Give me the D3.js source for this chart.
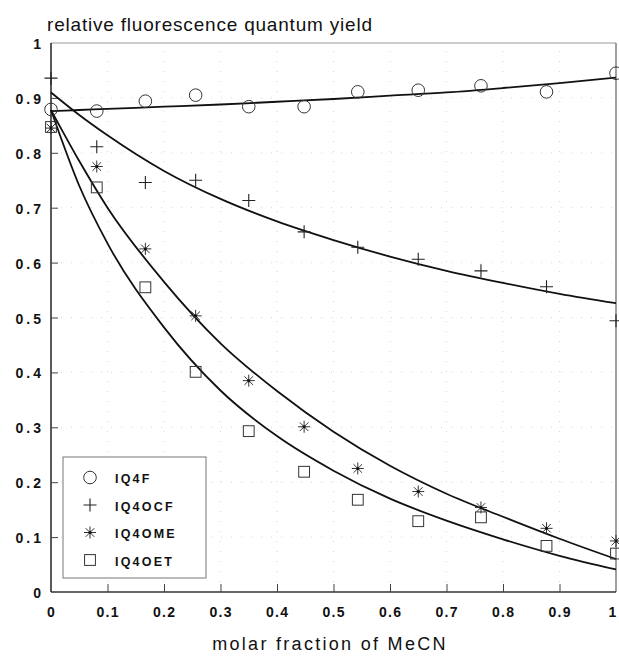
<!DOCTYPE html>
<html lang="en">
<head>
<meta charset="utf-8">
<title>relative fluorescence quantum yield</title>
<script src="https://cdn.jsdelivr.net/npm/d3@7"></script>
<style>
  body { margin: 0; background: #fff; }
  svg { display: block; }
  text { font-family: "Liberation Sans", Arial, sans-serif; fill: #111; }
</style>
</head>
<body>
<svg width="619" height="656"></svg>
<script>
// measured points (mole fraction of MeCN)
var xVals   = [0, 0.081, 0.167, 0.256, 0.35, 0.448, 0.543, 0.65, 0.761, 0.877, 1.0];
var iq4f    = [0.879, 0.876, 0.894, 0.905, 0.884, 0.884, 0.911, 0.914, 0.922, 0.911, 0.945];
var iq4ocf  = [0.936, 0.811, 0.746, 0.750, 0.713, 0.656, 0.628, 0.606, 0.585, 0.556, 0.494];
var iq4ome  = [0.845, 0.775, 0.625, 0.503, 0.385, 0.301, 0.225, 0.183, 0.154, 0.116, 0.093];
var iq4oet  = [0.847, 0.737, 0.555, 0.401, 0.293, 0.219, 0.168, 0.129, 0.136, 0.084, 0.070];

// fitted curves
var fitX      = [0, 0.05, 0.1, 0.2, 0.3, 0.4, 0.5, 0.6, 0.7, 0.8, 0.9, 1.0];
var fitIq4f   = [0.876, 0.878, 0.880, 0.884, 0.888, 0.893, 0.898, 0.904, 0.910, 0.918, 0.927, 0.937];
var fitIq4ocf = [0.910, 0.869, 0.832, 0.767, 0.716, 0.675, 0.641, 0.611, 0.585, 0.563, 0.543, 0.526];
var fitIq4ome = [0.878, 0.785, 0.700, 0.565, 0.453, 0.366, 0.292, 0.230, 0.179, 0.137, 0.097, 0.060];
var fitIq4oet = [0.878, 0.740, 0.635, 0.482, 0.367, 0.284, 0.221, 0.170, 0.130, 0.096, 0.066, 0.041];

var tickVals   = [0, 0.1, 0.2, 0.3, 0.4, 0.5, 0.6, 0.7, 0.8, 0.9, 1];
var tickLabels = ["0", "0.1", "0.2", "0.3", "0.4", "0.5", "0.6", "0.7", "0.8", "0.9", "1"];
var seriesNames = ["IQ4F", "IQ4OCF", "IQ4OME", "IQ4OET"];

var svg = d3.select("svg");
var x = d3.scaleLinear().domain([0, 1]).range([51, 616]);
var y = d3.scaleLinear().domain([0, 1]).range([592, 43]);

// faint dotted grid
var grid = svg.append("g").attr("stroke", "#d6d6d6").attr("stroke-width", 1)
    .attr("stroke-dasharray", "1,9");
grid.selectAll("line.v").data(tickVals.slice(1, 10)).enter().append("line")
    .attr("x1", function(d) { return x(d); }).attr("x2", function(d) { return x(d); })
    .attr("y1", y(0)).attr("y2", y(1));
grid.selectAll("line.h").data(tickVals.slice(1, 10)).enter().append("line")
    .attr("y1", function(d) { return y(d); }).attr("y2", function(d) { return y(d); })
    .attr("x1", x(0)).attr("x2", x(1));

// frame
svg.append("line").attr("x1", x(0)).attr("x2", x(1)).attr("y1", y(1)).attr("y2", y(1))
    .attr("stroke", "#999").attr("stroke-width", 1);
svg.append("line").attr("x1", x(1)).attr("x2", x(1)).attr("y1", y(1)).attr("y2", y(0))
    .attr("stroke", "#888").attr("stroke-width", 1.6);

// axes with inward ticks
var xAxis = d3.axisBottom(x).tickValues(tickVals.slice(1, 10)).tickSize(-8).tickFormat("");
var yAxis = d3.axisLeft(y).tickValues(tickVals.slice(1, 10)).tickSize(-7).tickFormat("");
var gx = svg.append("g").attr("transform", "translate(0," + y(0) + ")").call(xAxis);
var gy = svg.append("g").attr("transform", "translate(" + x(0) + ",0)").call(yAxis);
gx.select(".domain").attr("d", "M" + x(0) + ",0H" + x(1)).attr("stroke", "#333").attr("stroke-width", 1.5);
gy.select(".domain").attr("d", "M0," + y(0) + "V" + y(1)).attr("stroke", "#222").attr("stroke-width", 1.5);
gx.selectAll(".tick line").attr("stroke", "#444");
gy.selectAll(".tick line").attr("stroke", "#444");

// tick labels
svg.append("g").selectAll("text").data(tickVals).enter().append("text")
    .attr("x", function(d) { return d === 1 ? x(d) - 3 : x(d) + 0.6; })
    .attr("y", 617)
    .attr("text-anchor", "middle")
    .style("font-size", "14px").style("font-weight", "bold").style("letter-spacing", "1.2px")
    .text(function(d, i) { return tickLabels[i]; });
svg.append("g").selectAll("text").data(tickVals).enter().append("text")
    .attr("x", 44)
    .attr("y", function(d) { return y(d) + 6; })
    .attr("text-anchor", "end")
    .style("font-size", "14px").style("font-weight", "bold").style("letter-spacing", "3px")
    .text(function(d, i) { return tickLabels[i]; });

// titles
svg.append("text").attr("x", 47).attr("y", 31)
    .style("font-size", "19px").style("letter-spacing", "0.8px")
    .text("relative fluorescence quantum yield");
svg.append("text").attr("x", 330).attr("y", 650).attr("text-anchor", "middle")
    .style("font-size", "18px").style("letter-spacing", "2.3px")
    .text("molar fraction of MeCN");

// fitted curves
var line = d3.line()
    .x(function(d) { return x(d[0]); })
    .y(function(d) { return y(d[1]); })
    .curve(d3.curveMonotoneX);
[fitIq4f, fitIq4ocf, fitIq4ome, fitIq4oet].forEach(function(vals) {
    svg.append("path")
        .datum(fitX.map(function(v, i) { return [v, vals[i]]; }))
        .attr("fill", "none").attr("stroke", "#111").attr("stroke-width", 1.8)
        .attr("d", line);
});

// marker drawers
function drawCircle(g, cx, cy) {
    g.append("circle").attr("cx", cx).attr("cy", cy).attr("r", 6.3)
        .attr("fill", "none").attr("stroke", "#333").attr("stroke-width", 1);
}
function drawPlus(g, cx, cy) {
    g.append("path").attr("d", "M" + (cx - 6.5) + "," + cy + "h13M" + cx + "," + (cy - 6.5) + "v13")
        .attr("stroke", "#222").attr("stroke-width", 1.1);
}
function drawStar(g, cx, cy) {
    var r = 6, q = 4.3;
    g.append("path").attr("d",
        "M" + (cx - r) + "," + cy + "h" + 2 * r +
        "M" + cx + "," + (cy - r) + "v" + 2 * r +
        "M" + (cx - q) + "," + (cy - q) + "l" + 2 * q + "," + 2 * q +
        "M" + (cx - q) + "," + (cy + q) + "l" + 2 * q + "," + (-2 * q))
        .attr("stroke", "#333").attr("stroke-width", 1);
    g.append("circle").attr("cx", cx).attr("cy", cy).attr("r", 1.5).attr("fill", "#111");
}
function drawSquare(g, cx, cy) {
    g.append("rect").attr("x", cx - 5.4).attr("y", cy - 5.4).attr("width", 10.8).attr("height", 10.8)
        .attr("fill", "none").attr("stroke", "#333").attr("stroke-width", 1);
}
var drawers = [drawCircle, drawPlus, drawStar, drawSquare];

var marks = svg.append("g");
[iq4f, iq4ocf, iq4ome, iq4oet].forEach(function(vals, s) {
    vals.forEach(function(v, i) {
        drawers[s](marks, x(xVals[i]), y(v));
    });
});

// legend
var legend = svg.append("g");
legend.append("rect").attr("x", 63).attr("y", 457).attr("width", 143).attr("height", 121)
    .attr("fill", "#fff").attr("stroke", "#777").attr("stroke-width", 1);
seriesNames.forEach(function(name, i) {
    var ly = 477.5 + i * 27.5;
    drawers[i](legend, 90, ly);
    legend.append("text").attr("x", 115).attr("y", ly + 5.5)
        .style("font-size", "12.5px").style("font-weight", "bold").style("letter-spacing", "2.2px")
        .text(name);
});
</script>
</body>
</html>
